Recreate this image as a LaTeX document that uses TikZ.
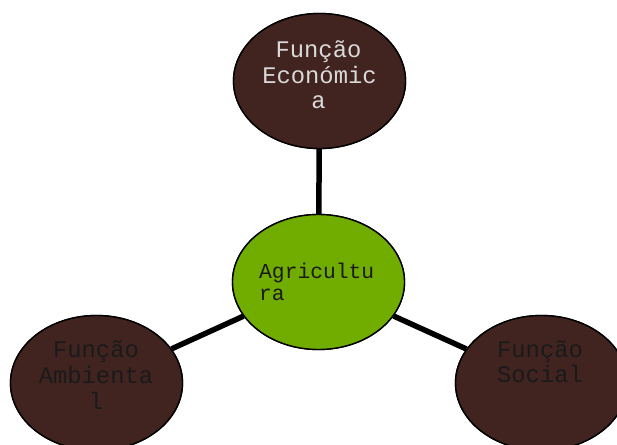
\documentclass[tikz,border=0pt]{standalone}
\usepackage{fontspec}
\setmonofont{Liberation Mono}
\usetikzlibrary{shapes.geometric}
\definecolor{brownfill}{HTML}{41241F}
\definecolor{greenfill}{HTML}{70AD00}
\definecolor{lighttext}{HTML}{D9D9D9}
\definecolor{darktext}{HTML}{1A1A1A}
\begin{document}
\begin{tikzpicture}[x=1pt,y=-1pt,
  bubble/.style={ellipse,draw=black,line width=1.4pt,inner sep=0pt,
    minimum width=172pt,minimum height=135pt},
  brownbubble/.style={bubble,fill=brownfill},
  greenbubble/.style={bubble,fill=greenfill},
  bigtext/.style={anchor=base,inner sep=0pt,font=\ttfamily\fontsize{23.8}{25}\selectfont},
  smalltext/.style={anchor=base west,inner sep=0pt,text=darktext,font=\ttfamily\fontsize{21.3}{22}\selectfont},
  link/.style={line width=5.5pt,black}]
\clip (0,0) rectangle (617,444);
\fill[white] (0,0) rectangle (617,444);
\node[brownbubble] (eco) at (319.5,81) {};
\node[greenbubble] (agri) at (318.5,282) {};
\node[brownbubble] (amb) at (96.5,383) {};
\node[brownbubble] (soc) at (541.5,383) {};
\draw[link] (eco) -- (agri);
\draw[link] (agri) -- (amb);
\draw[link] (agri) -- (soc);
% redraw bubbles over link ends
\node[brownbubble] at (eco.center) {};
\node[greenbubble] at (agri.center) {};
\node[brownbubble] at (amb.center) {};
\node[brownbubble] at (soc.center) {};
% texts
\node[bigtext,text=lighttext] (eco1) at (318.5,57) {Função};
\node[bigtext,text=lighttext] (eco2) at (319.5,83) {Económic};
\node[bigtext,text=lighttext] (eco3) at (318.5,108) {a};
\node[smalltext] (agri1) at (259,278) {Agricultu};
\node[smalltext] (agri2) at (259,300) {ra};
\node[bigtext,text=darktext] (amb1) at (96,357) {Função};
\node[bigtext,text=darktext] (amb2) at (96,383) {Ambienta};
\node[bigtext,text=darktext] (amb3) at (96,409) {l};
\node[bigtext,text=darktext] (soc1) at (540,357) {Função};
\node[bigtext,text=darktext] (soc2) at (540,382) {Social};
\end{tikzpicture}
\end{document}
